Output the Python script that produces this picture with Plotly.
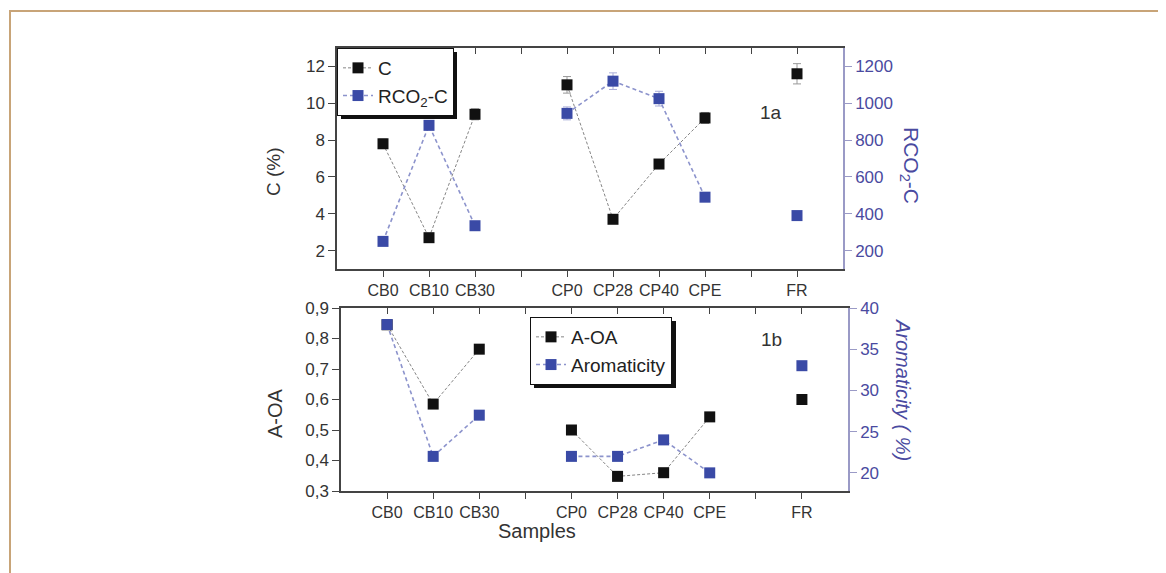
import plotly.graph_objects as go

# page body has an 8px margin; the figure is sized to fill the rest of the window
OFF = 8
W, H = 1158, 565

# ---- data ----
categories = ["CB0", "CB10", "CB30", "", "CP0", "CP28", "CP40", "CPE", "", "FR"]
positions = [1, 2, 3, 4, 5, 6, 7, 8, 9, 10]

c_pct = [7.8, 2.7, 9.4, None, 11.0, 3.7, 6.7, 9.2, None, 11.6]
c_err = [0.25, 0.1, 0.3, 0, 0.45, 0.1, 0.15, 0.3, 0, 0.55]
rco2_c = [250, 880, 335, None, 945, 1120, 1025, 490, None, 390]
rco2_err = [10, 20, 10, 0, 35, 45, 40, 10, 0, 10]

a_oa = [0.845, 0.585, 0.765, None, 0.50, 0.348, 0.36, 0.543, None, 0.60]
aromaticity = [38, 22, 27, None, 22, 22, 24, 20, None, 33]

c_ticks = [2, 4, 6, 8, 10, 12]
rco2_ticks = [200, 400, 600, 800, 1000, 1200]
aoa_ticks = [0.3, 0.4, 0.5, 0.6, 0.7, 0.8, 0.9]
aoa_ticktext = ["0,3", "0,4", "0,5", "0,6", "0,7", "0,8", "0,9"]
arom_ticks = [20, 25, 30, 35, 40]


def px(x):
    return (x - OFF) / W


def py(y):
    return 1 - (y - OFF) / H


FONT = "Liberation Sans, Arial, sans-serif"
DARK = "#333333"
AXC = "#444444"
BLUE_M = "#3a4aa6"
BLUE_L = "#8c93cc"
BLUE_T = "#4a4aa0"
BLUE_AX = "#9a9ac6"

fig = go.Figure()

# top panel
fig.add_trace(go.Scatter(
    x=positions, y=c_pct, name="C", mode="lines+markers",
    line=dict(color="#858585", width=1, dash="3px,2px"),
    marker=dict(symbol="square", size=11, color="#111111"),
    error_y=dict(type="data", array=c_err, color="#999999", thickness=1, width=4),
    xaxis="x", yaxis="y", legend="legend", connectgaps=False))
fig.add_trace(go.Scatter(
    x=positions, y=rco2_c, name="RCO<sub>2</sub>-C", mode="lines+markers",
    line=dict(color=BLUE_L, width=1.6, dash="4px,3px"),
    marker=dict(symbol="square", size=11, color=BLUE_M),
    error_y=dict(type="data", array=rco2_err, color="#a8acd8", thickness=1, width=4),
    xaxis="x", yaxis="y2", legend="legend", connectgaps=False))
fig.add_trace(go.Scatter(x=[], y=[], xaxis="x3", yaxis="y", showlegend=False))

# bottom panel
fig.add_trace(go.Scatter(
    x=positions, y=a_oa, name="A-OA", mode="lines+markers",
    line=dict(color="#858585", width=1, dash="3px,2px"),
    marker=dict(symbol="square", size=11, color="#111111"),
    xaxis="x2", yaxis="y3", legend="legend2", connectgaps=False))
fig.add_trace(go.Scatter(
    x=positions, y=aromaticity, name="Aromaticity", mode="lines+markers",
    line=dict(color=BLUE_L, width=1.6, dash="4px,3px"),
    marker=dict(symbol="square", size=11, color=BLUE_M),
    xaxis="x2", yaxis="y4", legend="legend2", connectgaps=False))
fig.add_trace(go.Scatter(x=[], y=[], xaxis="x4", yaxis="y3", showlegend=False))

xcommon = dict(range=[0, 11], tickvals=positions, ticktext=categories,
               ticks="outside", ticklen=6, tickwidth=1.2, tickcolor=AXC,
               showline=True, linecolor=AXC, linewidth=1.5, showgrid=False,
               zeroline=False, tickfont=dict(family=FONT, size=16, color=DARK),
               automargin=False)
xtop = dict(range=[0, 11], tickvals=positions, ticks="inside", ticklen=6,
            tickwidth=1.2, tickcolor=AXC, showticklabels=False, showline=True,
            linecolor=AXC, linewidth=1.5, showgrid=False, zeroline=False,
            side="top", automargin=False)
yleft = dict(ticks="outside", ticklen=7, tickwidth=1.2, tickcolor=AXC,
             showline=True, linecolor=AXC, linewidth=1.5, showgrid=False,
             zeroline=False, tickfont=dict(family=FONT, size=17, color=DARK),
             automargin=False)
yright = dict(ticks="outside", ticklen=7, tickwidth=1.2, tickcolor=BLUE_AX,
              showline=True, linecolor=BLUE_AX, linewidth=1.5, showgrid=False,
              zeroline=False, tickfont=dict(family=FONT, size=17, color=BLUE_T),
              side="right", automargin=False)

fig.update_layout(
    width=W, height=H,
    margin=dict(l=0, r=0, t=0, b=0),
    paper_bgcolor="white", plot_bgcolor="white",
    font=dict(family=FONT, color=DARK),
    xaxis=dict(**xcommon, domain=[px(337), px(843)], anchor="y"),
    xaxis3=dict(**xtop, overlaying="x", anchor="y"),
    yaxis=dict(**yleft, domain=[py(269), py(48)], range=[1, 13], tickvals=c_ticks, anchor="x"),
    yaxis2=dict(**yright, range=[100, 1300], tickvals=rco2_ticks, overlaying="y", anchor="x"),
    xaxis2=dict(**xcommon, domain=[px(341), px(848)], anchor="y3"),
    xaxis4=dict(**xtop, overlaying="x2", anchor="y3"),
    yaxis3=dict(**yleft, domain=[py(491), py(308)], range=[0.3, 0.9], tickvals=aoa_ticks,
                ticktext=aoa_ticktext, anchor="x2"),
    yaxis4=dict(**yright, range=[17.8, 40], tickvals=arom_ticks, overlaying="y3", anchor="x2"),
    legend=dict(x=px(337), y=py(48), xanchor="left", yanchor="top",
                bgcolor="white", bordercolor="#111111", borderwidth=1,
                font=dict(family=FONT, size=19, color="#222222"),
                itemwidth=30, tracegroupgap=0),
    legend2=dict(x=px(530), y=py(317), xanchor="left", yanchor="top",
                 bgcolor="white", bordercolor="#111111", borderwidth=1,
                 font=dict(family=FONT, size=19, color="#222222"),
                 itemwidth=30, tracegroupgap=0),
    showlegend=True,
)

# legend shadows and frame
shapes = [
    dict(type="rect", xref="paper", yref="paper", x0=px(341), x1=px(457), y0=py(119), y1=py(52),
         fillcolor="#111111", line=dict(width=0), layer="above"),
    dict(type="rect", xref="paper", yref="paper", x0=px(534), x1=px(676), y0=py(388), y1=py(321),
         fillcolor="#111111", line=dict(width=0), layer="above"),
    dict(type="line", xref="paper", yref="paper", x0=px(10), x1=1, y0=py(11), y1=py(11),
         line=dict(color="#c8a478", width=2)),
    dict(type="line", xref="paper", yref="paper", x0=px(10), x1=px(10), y0=py(10), y1=0,
         line=dict(color="#c8a478", width=2)),
]
fig.update_layout(shapes=shapes)

annotations = [
    dict(text="C (%)", x=px(273), y=py(172), textangle=-90, font=dict(size=19, color=DARK)),
    dict(text="RCO<sub>2</sub>-C", x=px(910), y=py(165), textangle=90, font=dict(size=21, color=BLUE_T)),
    dict(text="A-OA", x=px(275), y=py(413), textangle=-90, font=dict(size=20, color=DARK)),
    dict(text="<i>Aromaticity ( %)</i>", x=px(903), y=py(390), textangle=90, font=dict(size=20, color=BLUE_T)),
    dict(text="Samples", x=px(537), y=py(531), font=dict(size=20, color=DARK)),
    dict(text="1a", x=px(771), y=py(112), font=dict(size=19, color=DARK)),
    dict(text="1b", x=px(771), y=py(339), font=dict(size=19, color=DARK)),
]
for a in annotations:
    a.update(xref="paper", yref="paper", showarrow=False, xanchor="center", yanchor="middle")
    a["font"]["family"] = FONT
fig.update_layout(annotations=annotations)

fig.write_html("out.html")
